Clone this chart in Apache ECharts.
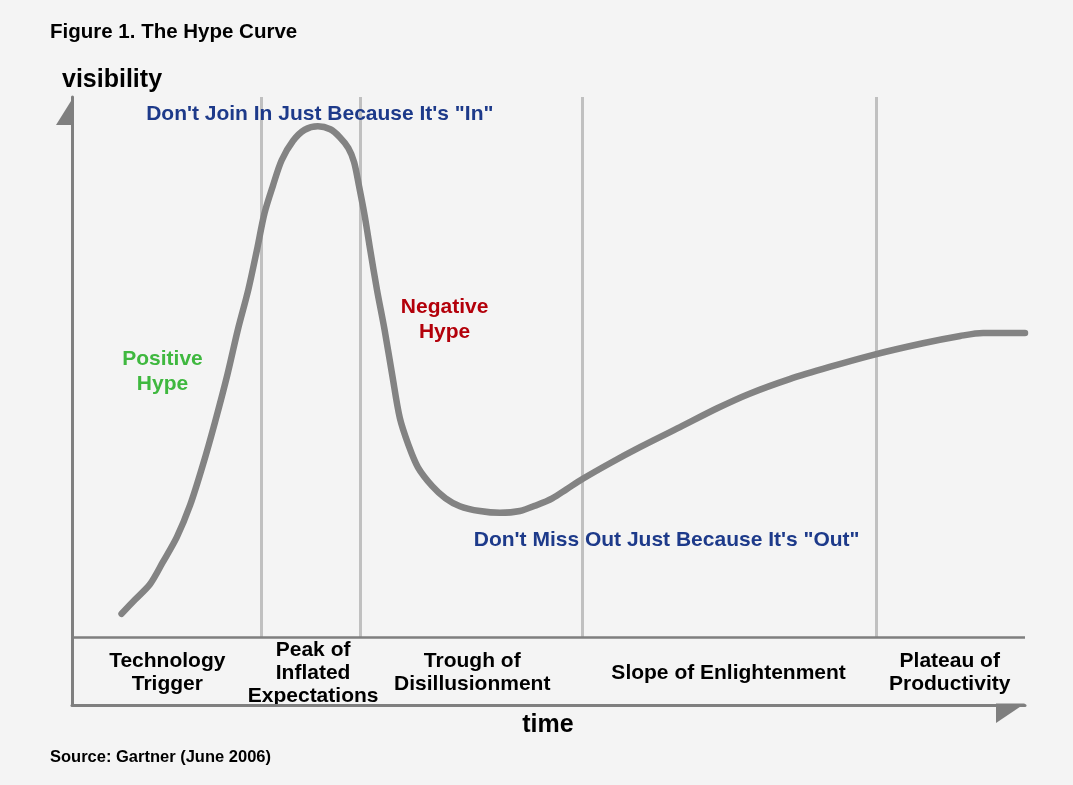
<!DOCTYPE html>
<html>
<head>
<meta charset="utf-8">
<script src="https://cdn.jsdelivr.net/npm/echarts@6/dist/echarts.min.js"></script>
<style>
html,body{margin:0;padding:0;background:#f4f4f4;}
#c{width:1073px;height:785px;}
</style>
</head>
<body>
<div id="c"></div>
<script>
// ---- data (time 0..100, visibility 0..100) ----
var timeVals = [5.2,6.6,8.2,9.5,11.0,12.4,13.7,15.0,16.3,17.4,18.5,19.4,20.2,21.1,22.0,23.2,24.4,25.8,27.1,28.1,29.0,29.6,30.1,30.7,31.3,32.0,32.8,33.6,34.4,35.3,36.3,37.8,39.2,40.7,42.8,44.9,47.0,48.8,50.4,51.9,53.6,56.5,59.6,63.8,67.7,71.1,75.3,79.5,84.1,89.3,93.2,95.6,100];
var visVals  = [15.0,17.3,19.9,23.4,27.6,32.9,39.3,46.5,54.3,61.7,68.3,74.8,80.9,85.5,89.6,92.8,94.6,95.2,94.7,93.4,91.6,89.3,85.5,80.6,74.8,68.3,61.7,54.3,47.2,42.8,39.1,36.0,34.0,32.7,31.9,31.6,31.9,32.9,34.0,35.5,37.2,39.8,42.4,45.7,48.8,51.2,53.6,55.6,57.6,59.5,60.7,61.2,61.2];
var phaseBounds = [19.9, 30.2, 53.5, 84.4];
var bandTop = 11.2;
var phaseLabels = ["Technology\nTrigger","Peak of\nInflated\nExpectations","Trough of\nDisillusionment","Slope of Enlightenment","Plateau of\nProductivity"];
var phaseCenters = [10.0, 25.3, 42.0, 68.9, 92.1];
var phaseLabelY = 5.3;
var notes = [
  {text:"Don't Join In Just Because It's \"In\"", x:26.0, y:97.2, color:"#1d3a8a"},
  {text:"Positive\nHype", x:9.5, y:54.9, color:"#3fb83f"},
  {text:"Negative\nHype", x:39.1, y:63.4, color:"#b3000a"},
  {text:"Don't Miss Out Just Because It's \"Out\"", x:62.4, y:27.1, color:"#1d3a8a"}
];

var FONT = "'Liberation Sans', Arial, Helvetica, sans-serif";
var chart = echarts.init(document.getElementById('c'));

var curve = timeVals.map(function(t,i){return [t, visVals[i]];});
var mlData = phaseBounds.map(function(x){
  return [{coord:[x,bandTop], lineStyle:{color:'#c0c0c0', width:3, type:'solid'}}, {coord:[x,100]}];
});
mlData.push([{coord:[0,bandTop], lineStyle:{color:'#7f7f7f', width:2.5, type:'solid'}}, {coord:[100,bandTop]}]);

chart.setOption({
  backgroundColor:'#f4f4f4',
  animation:false,
  title:{text:'Figure 1. The Hype Curve', left:50, top:22, padding:0,
    textStyle:{fontFamily:FONT, fontSize:20.5, fontWeight:'bold', color:'#000'}},
  grid:{left:72, right:48, top:97, bottom:80},
  xAxis:{type:'value', min:0, max:100, axisLine:{show:true, lineStyle:{color:'#7f7f7f', width:3}},
    axisTick:{show:false}, axisLabel:{show:false}, splitLine:{show:false}},
  yAxis:{type:'value', min:0, max:100, axisLine:{show:true, lineStyle:{color:'#7f7f7f', width:3}},
    axisTick:{show:false}, axisLabel:{show:false}, splitLine:{show:false}},
  series:[{
    type:'line', data:curve, smooth:0.3, symbol:'none', silent:true, z:5,
    lineStyle:{color:'#838383', width:6.5, cap:'round', join:'round'},
    markLine:{silent:true, symbol:['none','none'], label:{show:false}, data:mlData, z:1, animation:false,
      lineStyle:{type:'solid'}}
  }]
});

function P(x,y){return chart.convertToPixel({gridIndex:0},[x,y]);}
var g = [];
var o = P(0,100), e = P(100,0);
g.push({type:'polygon', shape:{points:[[o[0]+1.5,o[1]],[o[0]+1.5,o[1]+28],[o[0]-16,o[1]+28]]}, style:{fill:'#7f7f7f'}});
g.push({type:'polygon', shape:{points:[[e[0]-29,e[1]-1.5],[e[0],e[1]-1.5],[e[0]-29,e[1]+18]]}, style:{fill:'#7f7f7f'}});
phaseLabels.forEach(function(t,i){
  var p = P(phaseCenters[i], phaseLabelY);
  g.push({type:'text', x:p[0], y:p[1], style:{text:t, fontFamily:FONT, fontSize:21, fontWeight:'bold', fill:'#000', align:'center', verticalAlign:'middle', lineHeight:23}});
});
notes.forEach(function(n){
  var p = P(n.x, n.y);
  g.push({type:'text', x:p[0], y:p[1], z:10, style:{text:n.text, fontFamily:FONT, fontSize:21, fontWeight:'bold', fill:n.color, align:'center', verticalAlign:'middle', lineHeight:25}});
});
g.push({type:'text', x:62, y:80, style:{text:'visibility', fontFamily:FONT, fontSize:25, fontWeight:'bold', fill:'#000', align:'left', verticalAlign:'middle'}});
g.push({type:'text', x:548, y:725, style:{text:'time', fontFamily:FONT, fontSize:25, fontWeight:'bold', fill:'#000', align:'center', verticalAlign:'middle'}});
g.push({type:'text', x:50, y:757, style:{text:'Source: Gartner (June 2006)', fontFamily:FONT, fontSize:16.5, fontWeight:'bold', fill:'#000', align:'left', verticalAlign:'middle'}});
chart.setOption({graphic:g});
</script>
</body>
</html>
